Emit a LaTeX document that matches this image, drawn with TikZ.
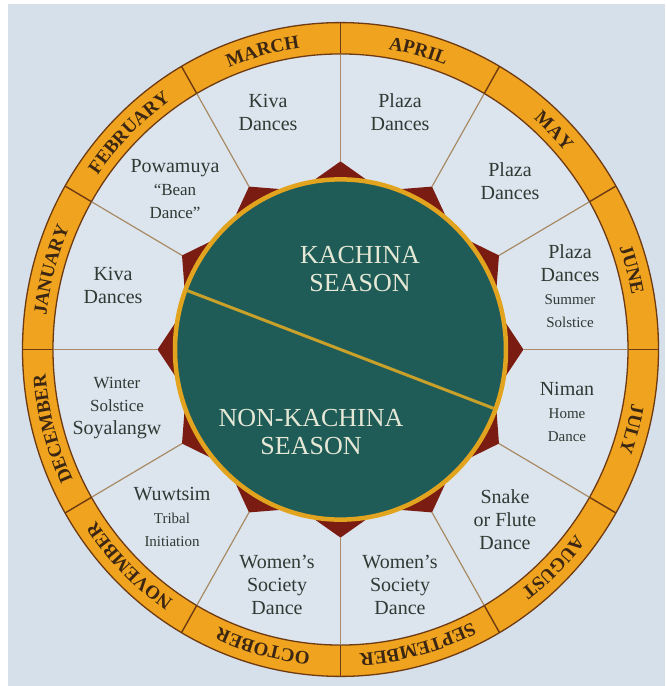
\documentclass[tikz,border=0pt]{standalone}
\usepackage{fontspec}
\setmainfont{Liberation Serif}
\usetikzlibrary{decorations.text}
\definecolor{bgc}{HTML}{D6E0EA}
\definecolor{secc}{HTML}{DCE5EE}
\definecolor{ringc}{HTML}{F0A31E}
\definecolor{ringline}{HTML}{6E3A12}
\definecolor{spoke}{HTML}{A88A64}
\definecolor{starc}{HTML}{7A1C12}
\definecolor{tealc}{HTML}{1F5C58}
\definecolor{yelc}{HTML}{E2A41E}
\definecolor{divc}{HTML}{C9A12A}
\definecolor{txtc}{HTML}{2E3A34}
\definecolor{ctxt}{HTML}{E6E8D6}
\definecolor{monthc}{HTML}{3A2612}
\newcommand\smtx{\fontsize{15}{18}\selectfont}
\newcommand\mdtx{\fontsize{17}{20}\selectfont}
\newcommand\monthfont{\fontsize{19}{19}\selectfont\bfseries}
\begin{document}
\begin{tikzpicture}[x=1pt,y=1.028pt,
  lab/.style={align=center, text=txtc, font=\fontsize{20}{23}\selectfont, inner sep=0pt},
  ctr/.style={align=center, text=ctxt, font=\fontsize{26}{28}\selectfont, inner sep=0pt},
  spokein/.style={spoke, line width=1.2pt},
  spokering/.style={ringline, line width=1.4pt},
  monthlab/.style={decorate, decoration={text along path, text align=center, text color=monthc, text={|\monthfont|#1}}}]
\useasboundingbox (-340.5pt,349.5pt) rectangle (324.5pt,-336.5pt);
\fill[white] (-340.5pt,349.5pt) rectangle (324.5pt,-336.5pt);
\fill[bgc] (-332.5pt,345.5pt) rectangle (324.5pt,-336.5pt);
% ring and sectors
\fill[ringc] (0,0) circle[radius=318];
\fill[secc] (0,0) circle[radius=287.5];
\draw[ringline, line width=1.3pt] (0,0) circle[radius=318];
\draw[ringline, line width=1.3pt] (0,0) circle[radius=287.5];
% spokes
\foreach \k in {0,...,11}{
  \coordinate (p\k) at ({\k*30}:183);
  \coordinate (m\k) at ({\k*30}:287.5);
  \coordinate (q\k) at ({\k*30}:318);
  \draw[spokein] (p\k) -- (m\k);
  \draw[spokering] (m\k) -- (q\k);
}
% star
\fill[starc] (0:183) \foreach \k in {1,...,12}{ -- ({\k*30-15}:160) -- ({\k*30}:183) } -- cycle;
% central disc
\fill[tealc] (0,0) circle[radius=164];
\draw[yelc, line width=4.5pt] (0,0) circle[radius=165.5];
\coordinate (dl) at (159.5:164);
\coordinate (dr) at (-20.5:164);
\draw[divc, line width=3pt] (dl) -- (dr);
% months
\path[monthlab=MARCH] (120:296) arc[start angle=120, end angle=90, radius=296];
\path[monthlab=APRIL] (90:296) arc[start angle=90, end angle=60, radius=296];
\path[monthlab=MAY] (60:296) arc[start angle=60, end angle=30, radius=296];
\path[monthlab=JUNE] (30:296) arc[start angle=30, end angle=0, radius=296];
\path[monthlab=JULY] (0:296) arc[start angle=0, end angle=-30, radius=296];
\path[monthlab=AUGUST] (-30:296) arc[start angle=-30, end angle=-60, radius=296];
\path[monthlab=SEPTEMBER] (-60:296) arc[start angle=-60, end angle=-90, radius=296];
\path[monthlab=OCTOBER] (-90:296) arc[start angle=-90, end angle=-120, radius=296];
\path[monthlab=NOVEMBER] (-120:296) arc[start angle=-120, end angle=-150, radius=296];
\path[monthlab=DECEMBER] (-150:296) arc[start angle=-150, end angle=-180, radius=296];
\path[monthlab=JANUARY] (180:296) arc[start angle=180, end angle=150, radius=296];
\path[monthlab=FEBRUARY] (150:296) arc[start angle=150, end angle=120, radius=296];
% sector labels
\node[lab] (mar) at (-72.5pt,237pt) {Kiva\\Dances};
\node[lab] (apr) at (59.5pt,237pt) {Plaza\\Dances};
\node[lab] (may) at (169.5pt,168pt) {Plaza\\Dances};
\node[lab] (jun) at (229.5pt,63.5pt) {Plaza\\Dances\\{\smtx Summer}\\{\smtx Solstice}};
\node[lab] (jul) at (226.5pt,-62.5pt) {Niman\\{\smtx Home}\\{\smtx Dance}};
\node[lab] (aug) at (164.5pt,-170.5pt) {Snake\\or Flute\\Dance};
\node[lab] (sep) at (59.5pt,-235.5pt) {Women’s\\Society\\Dance};
\node[lab] (oct) at (-63.5pt,-235.5pt) {Women’s\\Society\\Dance};
\node[lab] (nov) at (-168.5pt,-167.5pt) {Wuwtsim\\{\smtx Tribal}\\{\smtx Initiation}};
\node[lab] (dec) at (-223.5pt,-58.5pt) {{\mdtx Winter}\\{\mdtx Solstice}\\Soyalangw};
\node[lab] (jan) at (-227.5pt,64pt) {Kiva\\Dances};
\node[lab] (feb) at (-165.5pt,160.5pt) {Powamuya\\{\mdtx “Bean}\\{\mdtx Dance”}};
% centre
\node[ctr] (kach) at (19.5pt,80.5pt) {KACHINA\\SEASON};
\node[ctr] (nonk) at (-29.5pt,-82.5pt) {NON-KACHINA\\SEASON};
\end{tikzpicture}
\end{document}
